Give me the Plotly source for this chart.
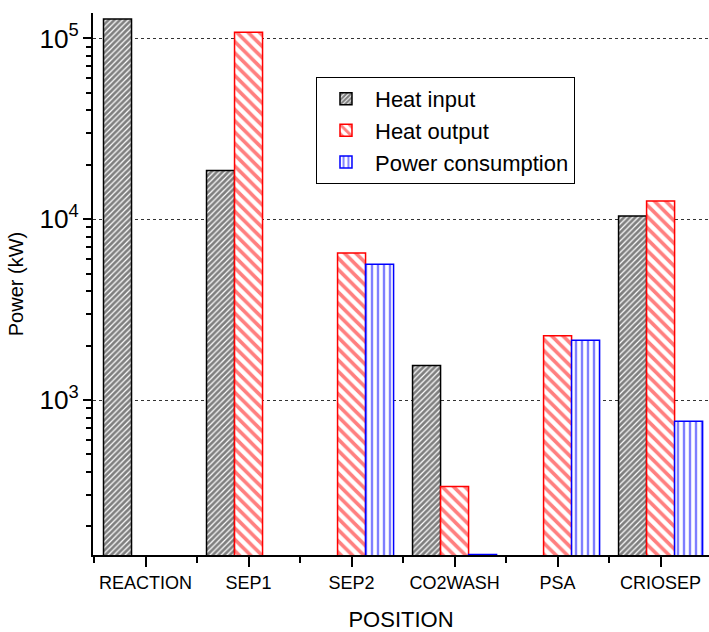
import plotly.graph_objects as go

# Process units along the x axis
positions = ["REACTION", "SEP1", "SEP2", "CO2WASH", "PSA", "CRIOSEP"]

# Energy flows per unit (kW); None where the unit has no such flow
heat_input = [128000, 18600, None, 1550, None, 10400]
heat_output = [None, 108000, 6500, 332, 2270, 12600]
power_consumption = [None, None, 5640, 140, 2140, 762]

x_idx = list(range(len(positions)))

series = [
    ("Heat input", heat_input, "#000000", "/", 4, 0.7),
    ("Heat output", heat_output, "#ff0000", "\\", 8, 0.45),
    ("Power consumption", power_consumption, "#0000ff", "|", 6, 0.4),
]

fig = go.Figure()
for name, vals, color, shape, size, solidity in series:
    fig.add_trace(go.Bar(
        name=name,
        x=x_idx,
        y=vals,
        marker=dict(
            color="white",
            line=dict(color=color, width=1.5),
            pattern=dict(shape=shape, fgcolor=color, bgcolor="white",
                         size=size, solidity=solidity, fillmode="overlay"),
        ),
    ))

font_family = "Liberation Sans, Arial, sans-serif"

fig.update_layout(
    width=709,
    height=632,
    margin=dict(l=93, r=0, t=13, b=77),
    paper_bgcolor="white",
    plot_bgcolor="white",
    barmode="group",
    bargap=0.184,
    bargroupgap=0,
    font=dict(family=font_family, color="black"),
    legend=dict(
        x=0.362, y=0.882, xanchor="left", yanchor="top",
        bgcolor="white", bordercolor="black", borderwidth=1,
        font=dict(size=22, family=font_family, color="black"),
        itemwidth=48,
        tracegroupgap=0,
    ),
)

fig.update_xaxes(
    range=[-0.51, 5.47],
    tickmode="array",
    tickvals=x_idx,
    ticktext=positions,
    tickfont=dict(size=18),
    ticks="outside", ticklen=10, tickwidth=2, tickcolor="black",
    minor=dict(tick0=0.5, dtick=1, ticks="outside", ticklen=6,
               tickwidth=2, tickcolor="black"),
    showline=True, linecolor="black", linewidth=2,
    showgrid=False, zeroline=False,
    title=dict(text="POSITION", font=dict(size=22), standoff=20),
)

fig.update_yaxes(
    type="log",
    range=[2.143, 5.14],
    dtick=1,
    exponentformat="power",
    tickfont=dict(size=21),
    ticks="outside", ticklen=8, tickwidth=2, tickcolor="black",
    minor=dict(dtick="D1", ticks="outside", ticklen=5,
               tickwidth=1.5, tickcolor="black", showgrid=False),
    showline=True, linecolor="black", linewidth=2,
    showgrid=True, gridcolor="#333333", griddash="dot", gridwidth=1,
    zeroline=False,
    title=dict(text="Power (kW)", font=dict(size=20), standoff=10),
)

fig.write_html("out.html")
